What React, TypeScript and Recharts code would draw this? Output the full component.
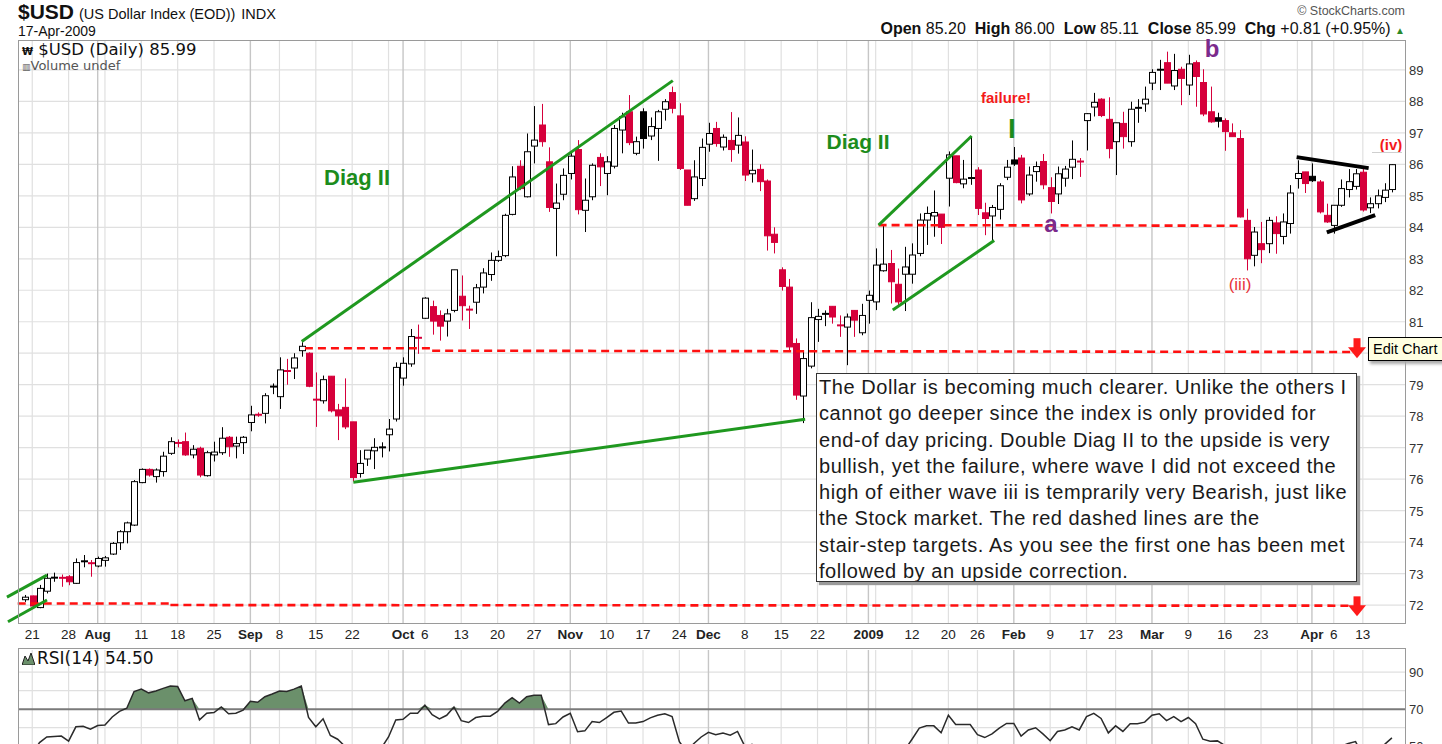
import React from "react";
import {
  ComposedChart,
  Bar,
  Line,
  Area,
  XAxis,
  YAxis,
  ReferenceLine,
  ReferenceDot,
} from "recharts";

const FONT = '"Liberation Sans", Arial, sans-serif';
const LEGEND_FONT = '"DejaVu Sans", Verdana, sans-serif';
const RED = "#d6003b";
const TREND_GREEN = "#1f981f";

// exchange holidays inside the window
const holidays = ["2008-09-01", "2008-11-27", "2008-12-25", "2009-01-01", "2009-01-19", "2009-02-16", "2009-04-10"];

// daily candles, [open, high, low, close]
const jul08 = [
  [72.17, 72.32, 72.1, 72.25], [72.29, 72.3, 71.95, 71.97], [71.92, 72.64, 71.9, 72.53], [72.44, 73.0, 72.37, 72.85],
  [72.86, 73.03, 72.74, 72.88], [72.87, 72.97, 72.58, 72.86], [72.9, 72.95, 72.63, 72.74], [72.69, 73.48, 72.67, 73.35],
  [73.38, 73.59, 73.2, 73.4], [73.34, 73.43, 72.9, 73.32],
];
const aug08 = [
  [73.24, 73.54, 73.2, 73.48], [73.42, 73.56, 73.22, 73.5], [73.62, 74.0, 73.59, 73.96], [73.98, 74.38, 73.75, 74.33],
  [74.33, 74.65, 73.96, 74.61], [74.54, 75.97, 74.51, 75.92], [75.89, 76.34, 75.87, 76.31], [76.31, 76.34, 76.08, 76.13],
  [76.08, 76.34, 75.89, 76.29], [76.24, 76.87, 76.08, 76.73], [76.82, 77.33, 76.77, 77.19], [77.16, 77.26, 77.01, 77.14],
  [77.19, 77.48, 76.74, 76.77], [76.77, 77.08, 76.66, 76.95], [76.98, 77.03, 76.06, 76.13], [76.11, 76.9, 76.08, 76.84],
  [76.77, 77.19, 76.56, 76.86], [76.84, 77.65, 76.77, 77.3], [77.33, 77.37, 76.71, 77.03], [77.05, 77.35, 76.66, 77.13],
  [77.16, 77.37, 76.8, 77.33],
];
const sep08 = [
  [77.8, 78.33, 77.52, 78.04], [78.06, 78.12, 77.98, 78.03], [78.09, 78.73, 77.77, 78.65], [78.93, 79.04, 78.7, 78.95],
  [78.62, 79.87, 78.23, 79.47], [79.45, 79.82, 79.0, 79.42], [79.53, 80.0, 79.18, 79.85], [80.08, 80.35, 79.89, 80.22],
  [80.0, 80.03, 78.92, 78.95], [78.55, 79.39, 77.66, 78.5], [78.49, 79.29, 78.4, 79.16], [79.27, 79.27, 78.12, 78.17],
  [78.2, 78.39, 77.24, 78.01], [78.28, 79.2, 77.59, 77.66], [77.82, 77.82, 75.93, 76.05], [76.18, 76.92, 76.05, 76.5],
  [76.64, 76.92, 76.42, 76.92], [76.9, 77.3, 76.32, 77.01], [77.0, 77.17, 76.69, 77.02], [77.41, 77.91, 76.88, 77.59],
  [77.91, 79.71, 77.83, 79.55],
];
const oct08 = [
  [79.21, 79.87, 78.97, 79.68], [79.66, 80.77, 79.57, 80.53], [80.5, 80.91, 79.98, 80.48], [81.11, 81.78, 81.09, 81.75],
  [81.48, 81.67, 80.59, 81.02], [81.2, 81.36, 80.4, 80.86], [81.02, 81.41, 80.53, 81.25], [81.36, 82.65, 81.3, 82.65],
  [81.81, 82.47, 81.04, 81.51], [81.4, 81.51, 80.77, 81.37], [81.62, 82.2, 81.25, 82.08], [82.1, 82.7, 81.9, 82.55],
  [82.5, 83.2, 82.3, 82.95], [82.95, 83.26, 82.9, 83.07], [83.1, 84.43, 83.05, 84.38], [84.41, 85.94, 84.38, 85.6],
  [85.94, 86.13, 85.18, 85.23], [84.97, 86.98, 84.95, 86.4], [86.58, 87.85, 86.03, 86.77], [87.25, 87.92, 86.56, 86.72],
  [86.08, 86.54, 84.49, 84.63], [84.6, 85.39, 83.08, 84.77], [85.05, 85.87, 84.86, 85.65],
];
const nov08 = [
  [85.71, 86.4, 85.52, 86.26], [86.47, 86.77, 84.41, 84.56], [84.54, 85.55, 83.85, 84.86], [84.97, 86.03, 84.86, 85.97],
  [86.22, 86.35, 85.31, 85.92], [85.71, 86.26, 85.02, 86.08], [85.94, 87.25, 85.87, 87.14], [87.09, 87.64, 86.35, 87.51],
  [87.67, 88.2, 86.61, 86.69], [86.35, 86.88, 86.29, 86.72], [87.67, 87.78, 86.5, 86.82], [86.9, 87.49, 86.77, 87.2],
  [87.14, 87.73, 86.11, 87.67], [87.75, 88.07, 87.39, 87.99], [88.28, 88.47, 87.62, 87.78], [87.54, 87.94, 85.82, 85.87],
  [85.82, 85.82, 84.7, 84.7], [84.91, 86.13, 84.84, 85.6], [85.55, 86.82, 85.31, 86.54],
];
const dec08 = [
  [86.64, 87.32, 86.4, 86.98], [87.14, 87.35, 86.56, 86.66], [86.55, 86.95, 86.44, 86.86], [86.76, 87.66, 86.08, 86.47],
  [86.61, 87.49, 86.34, 86.92], [86.71, 86.89, 85.47, 85.66], [85.7, 86.47, 85.42, 85.81], [85.84, 86.0, 85.15, 85.45],
  [85.47, 85.52, 83.26, 83.73], [83.78, 84.0, 83.17, 83.52], [82.65, 82.73, 81.99, 82.12], [82.1, 82.36, 80.1, 80.2],
  [80.31, 80.47, 78.52, 78.67], [78.64, 80.04, 77.78, 79.83], [79.59, 81.62, 79.52, 81.13], [81.07, 81.41, 80.36, 81.17],
  [81.24, 81.36, 80.86, 81.26], [81.49, 81.49, 80.94, 81.15], [80.9, 81.2, 80.52, 80.87], [80.83, 81.26, 79.62, 81.15],
  [81.36, 81.36, 80.52, 81.05], [80.65, 81.57, 80.57, 81.2],
];
const jan09 = [
  [81.68, 81.99, 80.94, 81.84], [81.63, 83.33, 81.37, 82.8], [82.62, 84.07, 82.59, 82.83], [82.85, 83.28, 81.58, 82.27],
  [82.19, 82.69, 81.47, 81.63], [82.51, 83.38, 81.34, 82.74], [82.51, 83.49, 82.21, 83.12], [83.17, 84.44, 83.08, 84.23],
  [84.23, 84.66, 83.44, 84.44], [84.36, 85.17, 83.7, 84.47], [84.42, 84.42, 83.47, 84.0], [85.56, 86.41, 84.66, 86.3],
  [86.27, 86.27, 85.4, 85.42], [85.38, 86.14, 85.24, 85.53], [85.55, 86.89, 85.35, 85.58], [85.82, 85.91, 84.39, 84.6],
  [84.46, 84.78, 83.75, 84.28], [84.36, 84.71, 83.59, 84.63], [84.57, 85.4, 84.25, 85.32], [85.59, 86.14, 85.5, 85.91],
];
const feb09 = [
  [86.14, 86.55, 85.95, 86.01], [86.2, 86.3, 84.76, 84.87], [85.06, 85.93, 85.0, 85.66], [85.77, 86.09, 85.45, 85.93],
  [86.09, 86.33, 85.21, 85.35], [85.26, 85.59, 84.44, 84.82], [85.06, 85.93, 84.74, 85.7], [85.56, 85.95, 85.29, 85.85],
  [85.91, 86.76, 85.53, 86.16], [86.1, 86.2, 85.6, 86.08], [87.39, 87.63, 86.44, 87.61], [87.82, 88.27, 87.52, 87.97],
  [88.07, 88.1, 87.5, 87.55], [87.43, 88.13, 86.19, 86.5], [86.72, 87.32, 85.66, 87.32], [87.3, 87.67, 86.5, 86.88],
  [86.72, 87.99, 86.56, 87.75], [87.79, 88.07, 87.32, 87.8], [87.92, 88.47, 87.67, 88.07],
];
const mar09 = [
  [88.58, 89.02, 88.36, 88.92], [89.0, 89.32, 88.36, 89.01], [89.23, 89.58, 88.58, 88.58], [88.49, 89.51, 88.36, 88.98],
  [89.02, 89.1, 87.88, 88.73], [88.52, 89.48, 88.2, 89.19], [89.23, 89.3, 87.83, 88.79], [88.6, 89.02, 87.53, 87.6],
  [87.67, 88.47, 87.32, 87.35], [87.48, 87.64, 87.17, 87.37], [87.39, 87.46, 86.43, 87.04], [87.0, 87.3, 86.88, 86.88],
  [86.82, 87.09, 84.31, 84.33], [84.22, 84.59, 82.63, 83.0], [83.11, 84.01, 82.76, 83.85], [83.48, 84.17, 82.86, 83.29],
  [83.48, 84.33, 83.18, 84.22], [84.14, 84.35, 83.16, 83.8], [83.71, 84.44, 83.46, 84.17], [84.12, 85.34, 83.8, 85.09],
  [85.55, 86.13, 85.23, 85.71], [85.76, 85.76, 85.09, 85.39],
];
const apr09 = [
  [85.62, 86.03, 85.44, 85.48], [85.44, 85.5, 84.44, 84.49], [84.38, 84.75, 84.14, 84.17], [84.06, 84.7, 83.8, 84.7],
  [84.7, 85.52, 84.65, 85.23], [85.2, 85.85, 84.95, 85.45], [85.3, 85.85, 85.2, 85.7], [85.75, 85.85, 84.5, 84.55],
  [84.62, 84.95, 84.45, 84.75], [84.75, 85.2, 84.6, 85.0], [84.95, 85.4, 84.8, 85.18], [85.2, 86.0, 85.11, 85.99],
];
const closeBeforeFirst = 72.1;

// RSI(14), one value per candle
const rsiJul08 = [48, 46, 52, 55, 55.3, 55.5, 52.8, 60.5, 60.8, 59.2];
const rsiAug08 = [61.2, 61.5, 65.8, 68.8, 70.5, 79.5, 80.8, 78.8, 79.8, 81.2, 82.5, 82.2, 74.5, 75.8, 64.2, 67.8, 68.2, 71.2, 67.5, 67.8, 69.5];
const rsiSep08 = [74.2, 73.7, 76.7, 78.2, 79.8, 79.5, 80.8, 82.5, 65.5, 60.5, 64.8, 55.8, 53.8, 50, 42, 45, 47.5, 48.5, 49, 55, 64.2];
const rsiOct08 = [64.5, 67.8, 67.8, 72.2, 67, 64.8, 66.7, 71.2, 63.8, 62.8, 65.5, 66.2, 66.2, 68.8, 73.3, 76.2, 73.3, 76.7, 77.5, 77.5, 61.7, 62.2, 65.8];
const rsiNov08 = [67.8, 57.8, 58.3, 63.3, 62.8, 65.5, 68.3, 69, 62.5, 62.5, 63.3, 65.3, 66.7, 67.5, 66, 52.5, 47, 51.5, 55];
const rsiDec08 = [57.5, 56.2, 57.2, 56, 58, 50, 51, 48.5, 40, 38.5, 33, 26, 21, 33, 42, 42.5, 43, 42.5, 41.5, 42.5, 42, 43];
const rsiJan09 = [44, 48, 48.5, 46, 44, 48, 53.8, 59.8, 61, 61, 57.3, 66.7, 61.7, 61.7, 61.7, 56.3, 54.7, 56.7, 59.8, 62.3];
const rsiFeb09 = [62.3, 55.5, 58.8, 60, 56.7, 53, 58, 58.8, 60.5, 58.8, 66, 67.7, 65, 57.2, 61, 58, 62.2, 62.2, 63];
const rsiMar09 = [66.7, 67.5, 63.8, 66, 63.3, 65.5, 62.2, 53.8, 52.7, 52.9, 50.5, 49, 38, 33, 39, 37, 42, 40.5, 43, 49, 50.5, 48.5];
const rsiApr09 = [49, 43, 41.5, 46, 50, 51.5, 52.5, 45, 47, 49, 51, 54.5];

// date axis labels
const xLabels = [
  ["2008-07-21", "21"], ["2008-07-28", "28"], ["2008-08-01", "Aug"], ["2008-08-11", "11"], ["2008-08-18", "18"],
  ["2008-08-25", "25"], ["2008-09-02", "Sep"], ["2008-09-08", "8"], ["2008-09-15", "15"], ["2008-09-22", "22"],
  ["2008-10-01", "Oct"], ["2008-10-06", "6"], ["2008-10-13", "13"], ["2008-10-20", "20"], ["2008-10-27", "27"],
  ["2008-11-03", "Nov"], ["2008-11-10", "10"], ["2008-11-17", "17"], ["2008-11-24", "24"], ["2008-12-01", "Dec"],
  ["2008-12-08", "8"], ["2008-12-15", "15"], ["2008-12-22", "22"], ["2009-01-02", "2009"], ["2009-01-12", "12"],
  ["2009-01-20", "20"], ["2009-01-26", "26"], ["2009-02-02", "Feb"], ["2009-02-09", "9"], ["2009-02-17", "17"],
  ["2009-02-23", "23"], ["2009-03-02", "Mar"], ["2009-03-09", "9"], ["2009-03-16", "16"], ["2009-03-23", "23"],
  ["2009-04-01", "Apr"], ["2009-04-06", "6"], ["2009-04-13", "13"],
];
const priceTicks = [72, 73, 74, 75, 76, 77, 78, 79, 80, 81, 82, 83, 84, 85, 86, 87, 88, 89];
const priceTickText: Record<number, string> = { 87: "97" };
const rsiTicks = [50, 70, 90];
const rsiGrid = [40, 60, 80, 90];

// hand-drawn annotations, in (candle index, price)
const greenLines = [
  [[-2.48, 72.25], [3.03, 72.95]],
  [[-2.34, 71.47], [3.03, 72.16]],
  [[38.06, 80.37], [89.1, 88.66]],
  [[45.16, 75.9], [107.3, 77.9]],
  [[117.4, 84.07], [130.2, 86.9]],
  [[119.35, 81.37], [133.3, 83.58]],
];
const redDashed = [
  [[38.5, 80.16], [56, 80.16]],
  [[56, 80.08], [182.3, 80.04]],
  [[-1, 72.05], [20, 72.05]],
  [[20, 72.0], [182.3, 71.98]],
  [[117.4, 84.07], [167, 84.05]],
];
const blackLines = [
  [[174.9, 86.23], [184.8, 85.88]],
  [[179.05, 83.84], [185.7, 84.39]],
];
const arrows = [
  [183.2, 80.0],
  [183.2, 71.8],
];

function tradingDays(start: string, end: string) {
  const out: string[] = [];
  const d = new Date(start + "T00:00:00Z");
  const e = new Date(end + "T00:00:00Z");
  while (d <= e) {
    const s = d.toISOString().slice(0, 10);
    const wd = d.getUTCDay();
    if (wd !== 0 && wd !== 6 && !holidays.includes(s)) out.push(s);
    d.setUTCDate(d.getUTCDate() + 1);
  }
  return out;
}

const dates = tradingDays("2008-07-18", "2009-04-17");
const ohlc = [...jul08, ...aug08, ...sep08, ...oct08, ...nov08, ...dec08, ...jan09, ...feb09, ...mar09, ...apr09];
const rsi = [...rsiJul08, ...rsiAug08, ...rsiSep08, ...rsiOct08, ...rsiNov08, ...rsiDec08, ...rsiJan09, ...rsiFeb09, ...rsiMar09, ...rsiApr09];

const data = ohlc.map(([o, h, l, c], i) => ({
  i,
  date: dates[i],
  open: o,
  high: h,
  low: l,
  close: c,
  prevClose: i > 0 ? ohlc[i - 1][3] : closeBeforeFirst,
  rsi: rsi[i],
  rsiHi: Math.max(rsi[i], 70),
}));

const labelByIdx: Record<number, { text: string; bold: boolean }> = {};
xLabels.forEach(([d, t]) => {
  const idx = dates.indexOf(d);
  if (idx >= 0) labelByIdx[idx] = { text: t, bold: isNaN(Number(t)) || t === "2009" };
});
const labelIdx = Object.keys(labelByIdx).map(Number);

// grid: first session of each week, and of each month (darker)
const weekLines: number[] = [];
const monthLines: number[] = [];
dates.forEach((d, i) => {
  if (i === 0) return;
  const prev = dates[i - 1];
  if (d.slice(5, 7) !== prev.slice(5, 7)) monthLines.push(i);
  else if (new Date(d + "T00:00:00Z").getUTCDay() <= new Date(prev + "T00:00:00Z").getUTCDay()) weekLines.push(i);
});

const X_DOMAIN = [-0.96, 189.8];
const PRICE_DOMAIN = [71.43, 89.95];
const RSI_DOMAIN = [0, 101.9];

const Candle = (props: any) => {
  const { x, y, width, height, payload } = props;
  if (!payload) return null;
  const { open, high, low, close, prevClose } = payload;
  const top = Math.min(y, y + height);
  const span = Math.abs(height);
  const py = (v: number) => (high === low ? top : top + ((high - v) / (high - low)) * span);
  const cx = Math.round(x + width / 2) + 0.5;
  const color = close >= prevClose ? "#000" : RED;
  const hollow = close >= open;
  const bt = py(Math.max(open, close));
  const bb = py(Math.min(open, close));
  return (
    <g>
      <line x1={cx} x2={cx} y1={top} y2={top + span} stroke={color} strokeWidth={1} />
      {bb - bt < 1.6 ? (
        <line x1={cx - 3.5} x2={cx + 3.5} y1={(bt + bb) / 2} y2={(bt + bb) / 2} stroke={color} strokeWidth={2} />
      ) : (
        <rect x={cx - 3} y={bt} width={6} height={bb - bt} fill={hollow ? "#fff" : color} stroke={color} strokeWidth={1} />
      )}
    </g>
  );
};

const XTick = (props: any) => {
  const { x, payload } = props;
  const lab = labelByIdx[payload.value];
  if (!lab) return null;
  return (
    <text x={x} y={639} textAnchor="middle" fontFamily={FONT} fontSize={13.5} fontWeight={lab.bold ? 700 : 400} fill="#222">
      {lab.text}
    </text>
  );
};

const PriceTick = (props: any) => {
  const { y, payload } = props;
  return (
    <text x={1409} y={y + 5} fontFamily={FONT} fontSize={13} fill="#333">
      {priceTickText[payload.value] ?? String(payload.value)}
    </text>
  );
};

const RsiTick = (props: any) => {
  const { y, payload } = props;
  return (
    <text x={1409} y={y + 5} fontFamily={FONT} fontSize={13} fill="#333">
      {payload.value}
    </text>
  );
};

const Arrow = (props: any) => {
  const { cx, cy } = props;
  return (
    <g>
      <rect x={cx - 3.5} y={cy - 15} width={7} height={10} fill="#ff1a1a" />
      <polygon points={`${cx - 9},${cy - 6} ${cx + 9},${cy - 6} ${cx},${cy + 5}`} fill="#ff1a1a" />
    </g>
  );
};

// background grid, drawn in its own chart so it stays under the marks
function GridLayer({ height, top, bottom, yDomain, hLines }: { height: number; top: number; bottom: number; yDomain: number[]; hLines: number[] }) {
  return (
    <ComposedChart width={1442} height={height} data={data} margin={{ top, right: 0, bottom, left: 18 }}>
      <XAxis dataKey="i" type="number" domain={X_DOMAIN} allowDataOverflow hide />
      <YAxis orientation="right" domain={yDomain} allowDataOverflow width={37} tick={false} axisLine={false} tickLine={false} />
      {hLines.map((v) => (
        <ReferenceLine key={"h" + v} y={v} stroke="#e0e0e0" strokeWidth={1.2} />
      ))}
      {weekLines.map((i) => (
        <ReferenceLine key={"w" + i} x={i} stroke="#e0e0e0" strokeWidth={1.2} />
      ))}
      {monthLines.map((i) => (
        <ReferenceLine key={"m" + i} x={i} stroke="#c6c6c6" strokeWidth={1.4} />
      ))}
    </ComposedChart>
  );
}

const abs = (extra: React.CSSProperties): React.CSSProperties => ({ position: "absolute", fontFamily: FONT, whiteSpace: "nowrap", ...extra });
const note = (left: number, top: number, extra: React.CSSProperties): React.CSSProperties =>
  abs({ left, top, transform: "translate(-50%, -50%)", lineHeight: 1, ...extra });

const boxLines = [
  "The Dollar is becoming much clearer. Unlike the others I",
  "cannot go deeper since the index is only provided for",
  "end-of day pricing. Double Diag II to the upside is very",
  "bullish, yet the failure, where wave I did not exceed the",
  "high of either wave iii is temprarily very Bearish, just like",
  "the Stock market. The red dashed lines are the",
  "stair-step targets. As you see the first one has been met",
  "followed by an upside correction.",
];

export default function App() {
  return (
    <div style={{ position: "absolute", left: 0, top: 0, width: 1442, height: 744, background: "#fff", overflow: "hidden" }}>
      {/* header */}
      <div style={abs({ left: 18, top: 1, color: "#111", lineHeight: "22px" })}>
        <span style={{ fontSize: 21, fontWeight: 700 }}>$USD</span>
        <span style={{ fontSize: 14.5, marginLeft: 5 }}>(US Dollar Index (EOD))</span>
        <span style={{ fontSize: 14.5, marginLeft: 6 }}>INDX</span>
      </div>
      <div style={abs({ left: 18, top: 24, fontSize: 14, lineHeight: "15px", color: "#111" })}>17-Apr-2009</div>
      <div style={abs({ right: 37, top: 4, fontSize: 12.5, lineHeight: "14px", color: "#555" })}>© StockCharts.com</div>
      <div style={abs({ right: 37, top: 21, fontSize: 16, lineHeight: "16px", color: "#111" })}>
        <b>Open</b> 85.20&nbsp; <b>High</b> 86.00&nbsp; <b>Low</b> 85.11&nbsp; <b>Close</b> 85.99&nbsp; <b>Chg</b> +0.81 (+0.95%){" "}
        <span style={{ color: "#2a8a2a", fontSize: 10 }}>▲</span>
      </div>

      {/* price panel */}
      <div style={{ position: "absolute", left: 0, top: 0 }}>
        <GridLayer height={648} top={40} bottom={25} yDomain={PRICE_DOMAIN} hLines={priceTicks} />
      </div>
      <div style={{ position: "absolute", left: 0, top: 0 }}>
        <ComposedChart width={1442} height={648} data={data} margin={{ top: 40, right: 0, bottom: 0, left: 18 }}>
          <XAxis
            dataKey="i"
            type="number"
            domain={X_DOMAIN}
            allowDataOverflow
            ticks={labelIdx}
            interval={0}
            tick={<XTick />}
            tickLine={false}
            axisLine={false}
            height={25}
          />
          <YAxis
            orientation="right"
            domain={PRICE_DOMAIN}
            allowDataOverflow
            ticks={priceTicks}
            interval={0}
            tick={<PriceTick />}
            tickLine={false}
            axisLine={false}
            width={37}
          />
          <Bar dataKey={(d: any) => [d.low, d.high]} shape={<Candle />} barSize={6} isAnimationActive={false} />
          {redDashed.map((s, k) => (
            <ReferenceLine
              key={"r" + k}
              segment={[{ x: s[0][0], y: s[0][1] }, { x: s[1][0], y: s[1][1] }]}
              stroke="#ff1010"
              strokeWidth={2.6}
              strokeDasharray="8 5"
              ifOverflow="visible"
            />
          ))}
          {greenLines.map((s, k) => (
            <ReferenceLine
              key={"g" + k}
              segment={[{ x: s[0][0], y: s[0][1] }, { x: s[1][0], y: s[1][1] }]}
              stroke={TREND_GREEN}
              strokeWidth={3}
              ifOverflow="visible"
            />
          ))}
          {blackLines.map((s, k) => (
            <ReferenceLine
              key={"b" + k}
              segment={[{ x: s[0][0], y: s[0][1] }, { x: s[1][0], y: s[1][1] }]}
              stroke="#000"
              strokeWidth={4}
              ifOverflow="visible"
            />
          ))}
          {arrows.map((a, k) => (
            <ReferenceDot key={"a" + k} x={a[0]} y={a[1]} r={0} shape={<Arrow />} ifOverflow="visible" />
          ))}
        </ComposedChart>
      </div>
      <div style={{ position: "absolute", left: 18, top: 40, width: 1386, height: 582, border: "1px solid #9a9a9a", pointerEvents: "none" }} />

      {/* legend */}
      <div style={abs({ left: 22, top: 41, fontFamily: LEGEND_FONT, fontSize: 16.5, lineHeight: "18px", color: "#111" })}>
        <span style={{ fontSize: 10, fontWeight: 700 }}>₩</span> $USD (Daily) 85.99
      </div>
      <div style={abs({ left: 22, top: 59, fontFamily: LEGEND_FONT, fontSize: 13, lineHeight: "14px", color: "#555" })}>
        <span style={{ fontSize: 9 }}>▥</span>Volume undef
      </div>

      {/* notes */}
      <div style={note(357, 178, { fontSize: 22, fontWeight: 700, color: "#1c8c1c" })}>Diag II</div>
      <div style={note(858, 141, { fontSize: 21, fontWeight: 700, color: "#1c8c1c" })}>Diag II</div>
      <div style={note(1006, 97, { fontSize: 15, fontWeight: 700, color: "#f41a1a" })}>failure!</div>
      <div style={note(1012, 129, { fontSize: 28, fontWeight: 700, color: "#1c8c1c" })}>I</div>
      <div style={note(1051, 224, { fontSize: 24, fontWeight: 700, color: "#7b2a8c" })}>a</div>
      <div style={note(1212, 49, { fontSize: 24, fontWeight: 700, color: "#7b2a8c" })}>b</div>
      <div style={note(1240, 284, { fontSize: 17, color: "#e8333a" })}>(iii)</div>
      <div style={note(1391, 144, { fontSize: 15, fontWeight: 700, color: "#f41a1a" })}>(iv)</div>
      <div style={{ position: "absolute", left: 1372, top: 152, width: 30, height: 1, background: "#cfcfcf" }} />

      <div
        style={abs({
          left: 816,
          top: 373,
          width: 537,
          height: 207,
          border: "1px solid #333",
          boxShadow: "3px 3px 1px #9a9a9a",
          background: "#fff",
          fontSize: 20,
          letterSpacing: "0.55px",
          lineHeight: "26.3px",
          color: "#1a1a1a",
          padding: "0 0 0 2px",
          boxSizing: "content-box",
          overflow: "hidden",
        })}
      >
        {boxLines.map((t, k) => (
          <div key={k}>{t}</div>
        ))}
      </div>

      <div
        style={abs({
          left: 1368,
          top: 337,
          width: 90,
          height: 22,
          border: "1px solid #000",
          background: "#ffffe1",
          boxShadow: "2px 3px 3px #aaa",
          fontSize: 14.5,
          lineHeight: "22px",
          paddingLeft: 4,
        })}
      >
        Edit Chart
      </div>

      {/* RSI panel */}
      <div style={{ position: "absolute", left: 0, top: 650 }}>
        <GridLayer height={189} top={0} bottom={0} yDomain={RSI_DOMAIN} hLines={rsiGrid} />
      </div>
      <div style={{ position: "absolute", left: 0, top: 650 }}>
        <ComposedChart width={1442} height={189} data={data} margin={{ top: 0, right: 0, bottom: 0, left: 18 }}>
          <XAxis dataKey="i" type="number" domain={X_DOMAIN} allowDataOverflow hide />
          <YAxis
            orientation="right"
            domain={RSI_DOMAIN}
            allowDataOverflow
            ticks={rsiTicks}
            interval={0}
            tick={<RsiTick />}
            tickLine={false}
            axisLine={false}
            width={37}
          />
          <ReferenceLine y={70} stroke="#7a7a7a" strokeWidth={2} />
          <Area dataKey="rsiHi" baseValue={70} type="linear" fill="#6b906b" fillOpacity={1} stroke="none" isAnimationActive={false} />
          <Line dataKey="rsi" type="linear" stroke="#2a2a2a" strokeWidth={1.5} dot={false} isAnimationActive={false} />
        </ComposedChart>
      </div>
      <div style={{ position: "absolute", left: 18, top: 648, width: 1386, height: 200, border: "1px solid #9a9a9a", pointerEvents: "none" }} />
      <div style={abs({ left: 22, top: 649, fontFamily: LEGEND_FONT, fontSize: 17, lineHeight: "18px", color: "#111" })}>
        <svg width="13" height="13" style={{ verticalAlign: "-1px", marginRight: 2 }}>
          <polygon points="0,13 3,4 6,9 9,1 13,13" fill="#6b906b" stroke="#222" strokeWidth={1} />
        </svg>
        RSI(14) 54.50
      </div>
    </div>
  );
}
